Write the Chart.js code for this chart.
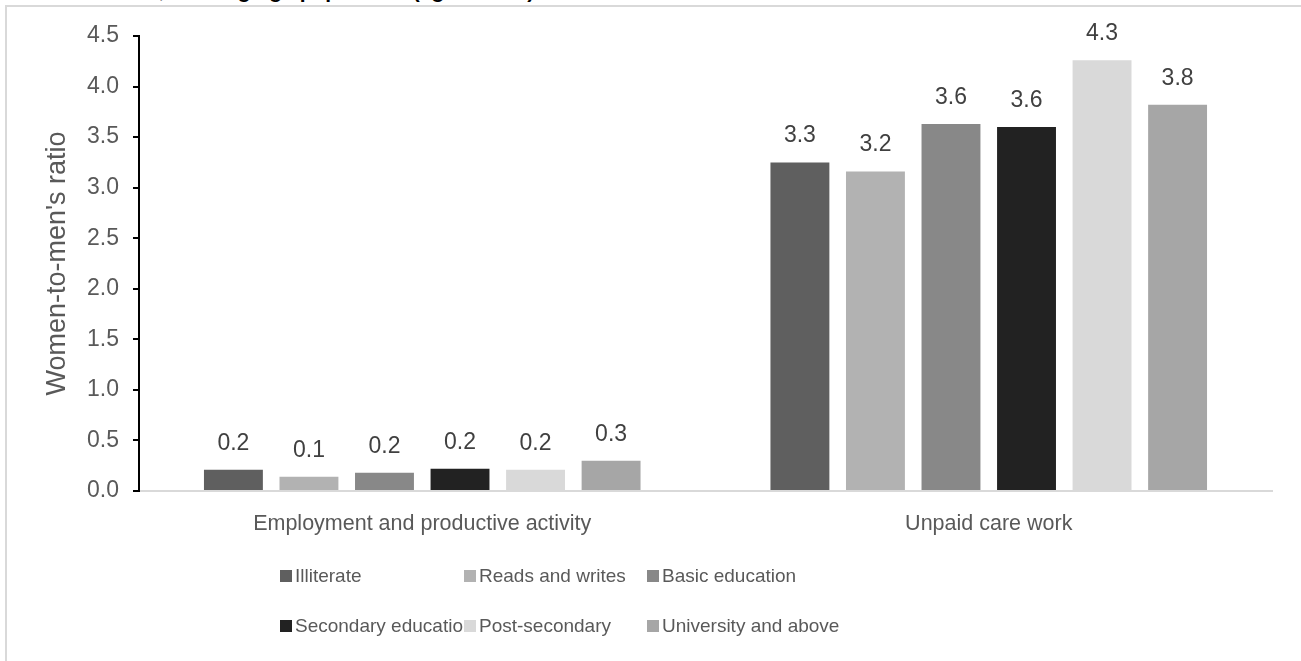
<!DOCTYPE html>
<html>
<head>
<meta charset="utf-8">
<script src="https://cdn.jsdelivr.net/npm/chart.js@4.4.1/dist/chart.umd.min.js"></script>
<style>
  html, body { margin: 0; padding: 0; background: #fff; overflow: hidden; }
  #wrap { position: relative; width: 1301px; height: 661px; overflow: hidden; }
  #frame { position: absolute; left: 5px; top: 5px; width: 1400px; height: 800px;
           border-top: 2px solid #d9d9d9; border-left: 2px solid #d9d9d9; box-sizing: border-box; }
  #head { position: absolute; left: 2px; top: -20px; margin: 0; white-space: nowrap;
          font: 21px "Liberation Sans", Arial, sans-serif; color: #000; line-height: 21px; }
  #head b { font-weight: bold; }
  canvas { position: absolute; left: 0; top: 0; }
</style>
</head>
<body>
<div id="wrap">
  <div id="frame"></div>
  <p id="head">educational level, <b>working-age population (ages 15-64)</b></p>
  <canvas id="c" width="1301" height="661"></canvas>
</div>
<script>
// Categories on the x axis
const categories = ["Employment and productive activity", "Unpaid care work"];

// Education levels (one series each) and their fills
const levels = ["Illiterate", "Reads and writes", "Basic education",
                "Secondary education", "Post-secondary", "University and above"];
const levelColors = ["#5f5f5f", "#b2b2b2", "#888888", "#222222", "#d9d9d9", "#a6a6a6"];

// Women-to-men's ratio per level: [employment, unpaid care]
const illiterate     = [0.21, 3.25];
const readsWrites    = [0.14, 3.16];
const basicEdu       = [0.18, 3.63];
const secondaryEdu   = [0.22, 3.60];
const postSecondary  = [0.21, 4.26];
const universityUp   = [0.30, 3.82];

// Y axis ticks
const yTicks = [0, 0.5, 1.0, 1.5, 2.0, 2.5, 3.0, 3.5, 4.0, 4.5];

const seriesValues = [illiterate, readsWrites, basicEdu, secondaryEdu, postSecondary, universityUp];

const FONT = '"Liberation Sans", Arial, sans-serif';
const TEXT = '#595959';

// Value labels above each bar
const valueLabels = {
  id: 'valueLabels',
  afterDatasetsDraw(chart) {
    const ctx = chart.ctx;
    ctx.save();
    ctx.font = '23px ' + FONT;
    ctx.fillStyle = '#404040';
    ctx.textAlign = 'center';
    ctx.textBaseline = 'alphabetic';
    chart.data.datasets.forEach((ds, i) => {
      chart.getDatasetMeta(i).data.forEach((bar, j) => {
        ctx.fillText(ds.data[j].toFixed(1), bar.x, bar.y - 20);
      });
    });
    ctx.restore();
  }
};

// Two-row legend laid out in three fixed columns; a label is cut off at the next column
const gridLegend = {
  id: 'gridLegend',
  afterDraw(chart) {
    const ctx = chart.ctx;
    const cols = [280, 464, 647];
    const rows = [576, 626];
    ctx.save();
    ctx.font = '19px ' + FONT;
    ctx.textBaseline = 'middle';
    chart.data.datasets.forEach((ds, i) => {
      const c = i % 3;
      const x = cols[c], y = rows[Math.floor(i / 3)];
      const w = c < cols.length - 1 ? cols[c + 1] - x : 400;
      ctx.save();
      ctx.beginPath();
      ctx.rect(x, y - 20, w, 40);
      ctx.clip();
      ctx.fillStyle = ds.backgroundColor;
      ctx.fillRect(x, y - 6, 12, 12);
      ctx.fillStyle = TEXT;
      ctx.fillText(ds.label, x + 15, y + 1);
      ctx.restore();
    });
    ctx.restore();
  }
};

new Chart(document.getElementById('c'), {
  type: 'bar',
  data: {
    labels: categories,
    datasets: levels.map((name, i) => ({
      label: name,
      data: seriesValues[i],
      backgroundColor: levelColors[i],
      borderWidth: 0,
      barPercentage: 0.78,
      categoryPercentage: 0.8
    }))
  },
  options: {
    responsive: false,
    animation: false,
    events: [],
    layout: { padding: { top: 36, right: 29, bottom: 120, left: 41 } },
    plugins: { legend: { display: false }, tooltip: { enabled: false } },
    scales: {
      x: {
        grid: { display: false, drawTicks: false },
        border: { color: '#d9d9d9', width: 2 },
        ticks: { color: TEXT, font: { family: FONT, size: 21.5 }, padding: 20 },
        afterFit(s) { s.height = 50; }
      },
      y: {
        min: 0, max: 4.5,
        afterBuildTicks(s) { s.ticks = yTicks.map(v => ({ value: v })); },
        grid: { drawOnChartArea: false, drawTicks: true, tickLength: 6, color: '#000', lineWidth: 2 },
        border: { color: '#000', width: 2 },
        ticks: { color: TEXT, font: { family: FONT, size: 23 }, padding: 14,
                 callback: v => Number(v).toFixed(1) },
        title: { display: true, text: "Women-to-men's ratio", color: TEXT,
                 font: { family: FONT, size: 27 }, padding: 0 },
        afterFit(s) { s.width = 98; }
      }
    }
  },
  plugins: [valueLabels, gridLegend]
});
</script>
</body>
</html>
